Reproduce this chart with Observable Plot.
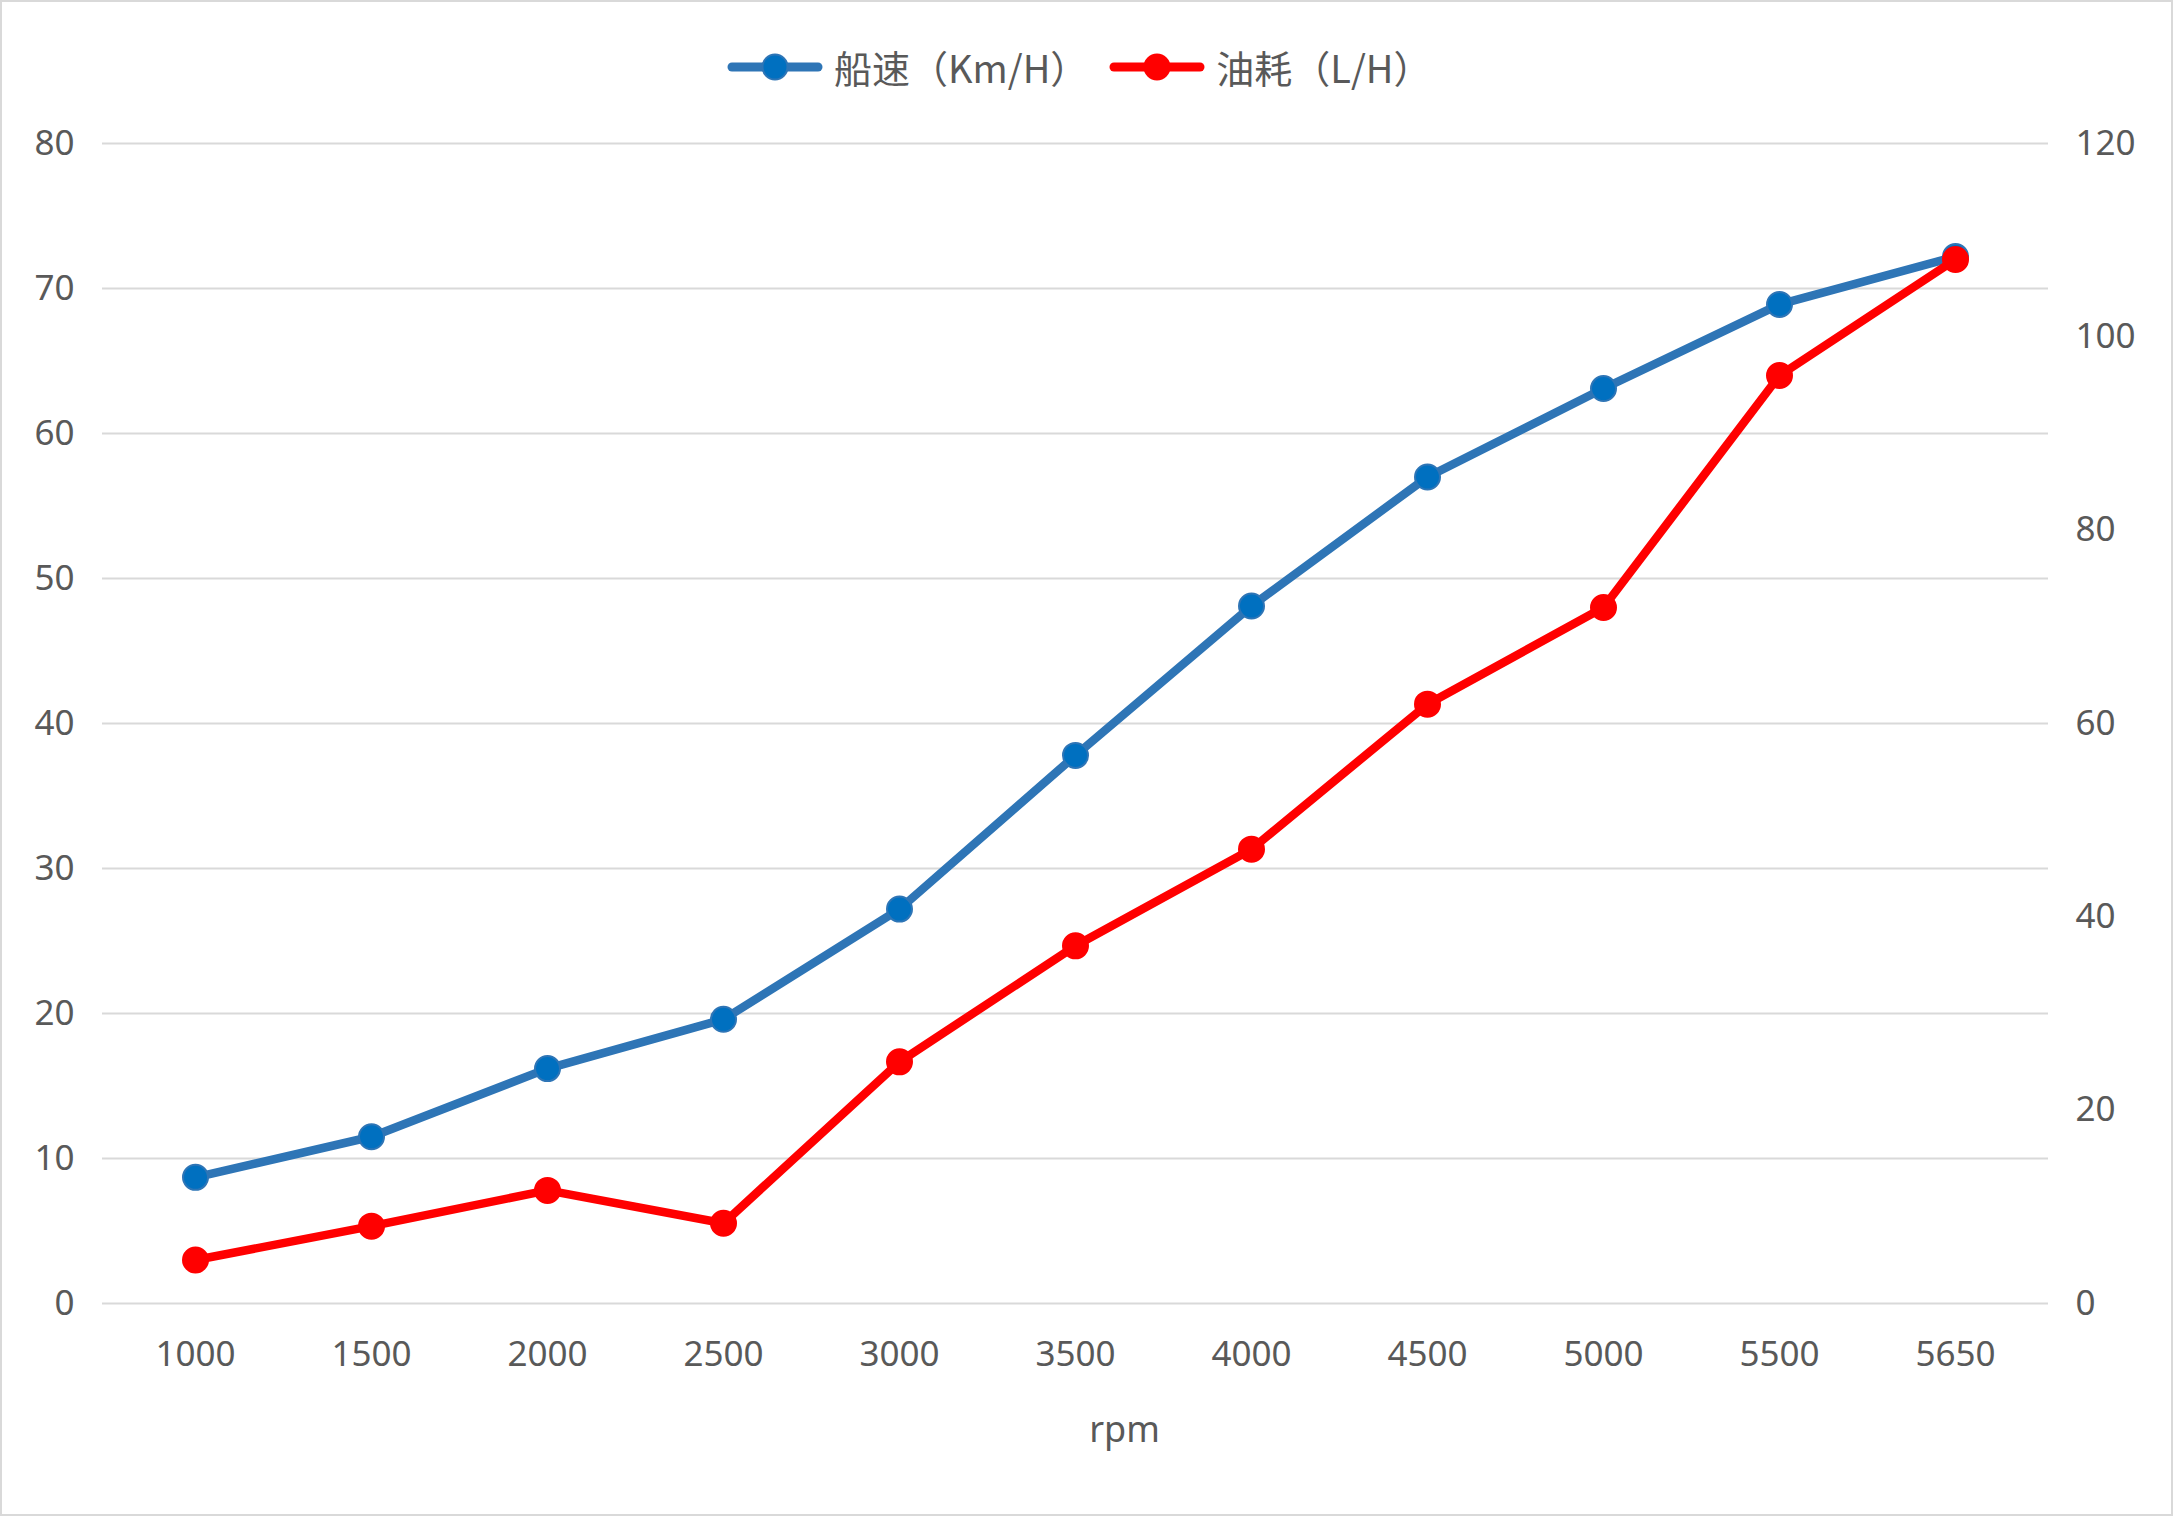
<!DOCTYPE html>
<html>
<head>
<meta charset="utf-8">
<script src="https://cdn.jsdelivr.net/npm/d3@7"></script>
<script src="https://cdn.jsdelivr.net/npm/@observablehq/plot@0.6"></script>
<style>
  html, body { margin: 0; padding: 0; background: #fff; }
  #frame { width: 2173px; height: 1516px; box-sizing: border-box; border: 2px solid #d9d9d9; position: relative; overflow: hidden; background: #fff; }
  #legend { position: relative; height: 100px; }
  #legend .inner { position: absolute; left: 724px; top: 45px; display: flex; align-items: center; height: 40px; }
  .item { display: flex; align-items: center; margin-right: 20px; }
  .item span { font-family: "Noto Sans CJK SC", "Noto Sans", sans-serif; font-size: 38px; color: #595959; margin-left: 10px; line-height: 40px; }
  #chart svg { display: block; }
</style>
</head>
<body>
<div id="frame">
  <div id="legend"><div class="inner" id="legendInner"></div></div>
  <div id="chart"></div>
</div>
<script>
const rpm = ["1000","1500","2000","2500","3000","3500","4000","4500","5000","5500","5650"];
const speed = [8.7, 11.5, 16.2, 19.6, 27.2, 37.8, 48.1, 57.0, 63.1, 68.9, 72.2];
const fuel = [4.5, 8.0, 11.7, 8.3, 25.0, 37.0, 47.0, 62.0, 72.0, 96.0, 108.0];
const leftTicks = [0, 10, 20, 30, 40, 50, 60, 70, 80];
const rightTicks = [0, 20, 40, 60, 80, 100, 120];
const seriesNames = ["船速（Km/H）", "油耗（L/H）"];
const xLabel = ["rpm"];

const ratio = 80 / 120;
const speedData = rpm.map((r, i) => ({rpm: r, v: speed[i]}));
const fuelData = rpm.map((r, i) => ({rpm: r, v: fuel[i] * ratio}));

const blueLine = "#2E75B6", blueFill = "#0070C0", red = "#FF0000", textCol = "#595959";

// legend
const legendInner = document.getElementById("legendInner");
[[seriesNames[0], blueLine, blueFill], [seriesNames[1], red, red]].forEach(([name, lc, fc]) => {
  const item = document.createElement("div");
  item.className = "item";
  item.innerHTML = `<svg width="98" height="40"><line x1="6" y1="20" x2="92" y2="20" stroke="${lc}" stroke-width="9" stroke-linecap="round"/><circle cx="49" cy="20" r="12.5" fill="${fc}" stroke="${lc}" stroke-width="2"/></svg><span>${name}</span>`;
  legendInner.appendChild(item);
});

const plot = Plot.plot({
  width: 2169,
  height: 1412,
  marginTop: 41,
  marginBottom: 211,
  marginLeft: 100,
  marginRight: 123,
  style: {fontFamily: "'Noto Sans', sans-serif", fontSize: "35px", color: textCol, background: "#fff"},
  x: {type: "point", domain: rpm, padding: 0.5, label: null},
  y: {domain: [0, 80], label: null},
  marks: [
    Plot.gridY(leftTicks, {stroke: "#d9d9d9", strokeOpacity: 1, strokeWidth: 2}),
    Plot.axisY(leftTicks, {anchor: "left", tickSize: 0, tickPadding: 28, label: null, fill: textCol}),
    Plot.axisY(rightTicks.map(t => t * ratio), {anchor: "right", tickSize: 0, tickPadding: 27, label: null, fill: textCol, tickFormat: d => String(Math.round(d / ratio))}),
    Plot.axisX(rpm, {anchor: "bottom", tickSize: 0, tickPadding: 38, label: null, fill: textCol}),
    Plot.text(xLabel, {text: d => d, frameAnchor: "bottom", dx: 49, dy: 138, fill: textCol, fontSize: 36}),
    Plot.line(speedData, {x: "rpm", y: "v", stroke: blueLine, strokeWidth: 8.5, strokeLinejoin: "round", strokeLinecap: "round"}),
    Plot.dot(speedData, {x: "rpm", y: "v", r: 12.5, fill: blueFill, stroke: blueLine, strokeWidth: 2}),
    Plot.line(fuelData, {x: "rpm", y: "v", stroke: red, strokeWidth: 8.5, strokeLinejoin: "round", strokeLinecap: "round"}),
    Plot.dot(fuelData, {x: "rpm", y: "v", r: 12.5, fill: red, stroke: red, strokeWidth: 2})
  ]
});
document.getElementById("chart").appendChild(plot);
</script>
</body>
</html>
